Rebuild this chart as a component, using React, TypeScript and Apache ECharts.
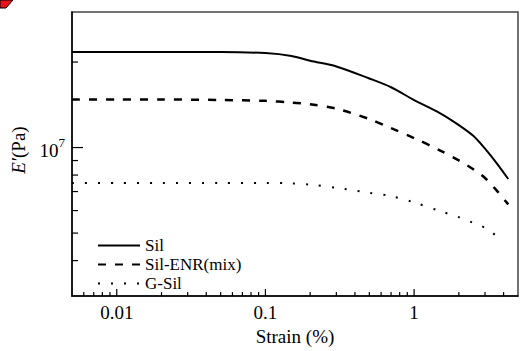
import React, { useEffect, useRef } from "react";
import * as echarts from "echarts";

const strain = [0.005, 0.01, 0.02, 0.05, 0.1, 0.15, 0.2, 0.3, 0.5, 0.7, 1.0, 1.5, 2.0, 2.5, 3.0, 3.6, 4.3];
const silValues = [2.17e7, 2.17e7, 2.17e7, 2.17e7, 2.15e7, 2.1e7, 2.02e7, 1.93e7, 1.75e7, 1.63e7, 1.47e7, 1.32e7, 1.2e7, 1.1e7, 9.91e6, 8.8e6, 7.75e6];
const silEnrValues = [1.476e7, 1.476e7, 1.476e7, 1.47e7, 1.46e7, 1.44e7, 1.42e7, 1.37e7, 1.26e7, 1.17e7, 1.08e7, 9.76e6, 9.01e6, 8.39e6, 7.81e6, 7.05e6, 6.31e6];
const gSilValues = [7.51e6, 7.51e6, 7.51e6, 7.51e6, 7.51e6, 7.48e6, 7.4e6, 7.22e6, 6.93e6, 6.75e6, 6.41e6, 5.97e6, 5.69e6, 5.43e6, 5.22e6, 4.88e6, null];
const seriesNames = ["Sil", "Sil-ENR(mix)", "G-Sil"];

const xMin = 0.005;
const xMax = 5;
const yMin = 3e6;
const yMax = 3e7;
const xMajorTicks = [0.01, 0.1, 1];
const xMinorTicks = [0.006, 0.007, 0.008, 0.009, 0.02, 0.03, 0.04, 0.05, 0.06, 0.07, 0.08, 0.09, 0.2, 0.3, 0.4, 0.5, 0.6, 0.7, 0.8, 0.9, 2, 3, 4];
const yMajorTicks = [1e7];
const yMinorTicks = [4e6, 5e6, 6e6, 7e6, 8e6, 9e6, 2e7];

const FONT = "Liberation Serif";

function pairs(values: (number | null)[]) {
  return strain.map((s, i) => [s, values[i]]);
}

function isPow10(v: number) {
  const l = Math.log10(v);
  return Math.abs(l - Math.round(l)) < 1e-6;
}

export default function App() {
  const ref = useRef<HTMLDivElement>(null);
  useEffect(() => {
    if (!ref.current) return;
    const chart = echarts.init(ref.current, undefined, { renderer: "svg" });
    const tickData: number[][] = [
      ...xMinorTicks.map((v) => [v, yMin, 0]),
      ...xMajorTicks.map((v) => [v, yMin, 1]),
      ...yMinorTicks.map((v) => [xMin, v, 2]),
      ...yMajorTicks.map((v) => [xMin, v, 3]),
    ];
    chart.setOption({
      animation: false,
      backgroundColor: "#fff",
      textStyle: { fontFamily: FONT },
      grid: {
        left: 72,
        top: 12,
        width: 453,
        height: 291,
        show: true,
        borderColor: "#444",
        borderWidth: 1.5,
      },
      legend: {
        data: seriesNames,
        orient: "vertical",
        left: 92,
        top: 232,
        itemWidth: 42,
        itemHeight: 12,
        itemGap: 2,
        itemStyle: { opacity: 0 },
        textStyle: { fontFamily: FONT, fontSize: 17, color: "#000", lineHeight: 17 },
      },
      xAxis: {
        type: "log",
        logBase: 10,
        min: xMin,
        max: xMax,
        name: "Strain (%)",
        nameLocation: "middle",
        nameGap: 27,
        nameTextStyle: { fontFamily: FONT, fontSize: 19, color: "#000" },
        axisLine: { show: true, lineStyle: { color: "#000", width: 1.5 } },
        axisTick: { show: false },
        splitLine: { show: false },
        axisLabel: {
          margin: 7,
          fontFamily: FONT,
          fontSize: 19,
          color: "#000",
          showMinLabel: true,
          showMaxLabel: true,
          formatter: (v: number) => (isPow10(v) ? String(+v.toPrecision(6)) : ""),
        },
      },
      yAxis: {
        type: "log",
        logBase: 10,
        min: yMin,
        max: yMax,
        name: "{i|E′}{n|(Pa)}",
        nameLocation: "middle",
        nameGap: 44,
        nameRotate: 90,
        nameTextStyle: {
          fontFamily: FONT,
          fontSize: 19,
          color: "#000",
          padding: [0, 0, 0, 8],
          rich: {
            i: { fontFamily: FONT, fontSize: 19, fontStyle: "italic", color: "#000" },
            n: { fontFamily: FONT, fontSize: 19, color: "#000" },
          },
        },
        axisLine: { show: true, lineStyle: { color: "#000", width: 1.5 } },
        axisTick: { show: false },
        splitLine: { show: false },
        axisLabel: {
          margin: 7,
          color: "#000",
          formatter: (v: number) => (isPow10(v) ? `{a|10}{b|${Math.round(Math.log10(v))}}` : ""),
          rich: {
            a: { fontFamily: FONT, fontSize: 19, color: "#000", lineHeight: 24, verticalAlign: "bottom" },
            b: { fontFamily: FONT, fontSize: 13, color: "#000", lineHeight: 24, verticalAlign: "top" },
          },
        },
      },
      series: [
        {
          name: seriesNames[0],
          type: "line",
          data: pairs(silValues),
          symbol: "none",
          smooth: 0.3,
          lineStyle: { color: "#000", width: 2, type: "solid" },
          itemStyle: { color: "#000" },
        },
        {
          name: seriesNames[1],
          type: "line",
          data: pairs(silEnrValues),
          symbol: "none",
          smooth: 0.3,
          lineStyle: { color: "#000", width: 2.5, type: [8, 9] },
          itemStyle: { color: "#000" },
        },
        {
          name: seriesNames[2],
          type: "line",
          data: pairs(gSilValues),
          symbol: "none",
          smooth: 0.3,
          lineStyle: { color: "#000", width: 2, type: [2, 11] },
          itemStyle: { color: "#000" },
        },
        {
          name: "ticks",
          type: "custom",
          silent: true,
          clip: false,
          data: tickData,
          renderItem: (params: any, api: any) => {
            const kind = api.value(2);
            const p = api.coord([api.value(0), api.value(1)]);
            let shape;
            if (kind === 0 || kind === 1) {
              const len = kind === 1 ? 7 : 4;
              shape = { x1: p[0], y1: p[1], x2: p[0], y2: p[1] - len };
            } else {
              const len = kind === 3 ? 11 : 6;
              shape = { x1: p[0], y1: p[1], x2: p[0] + len, y2: p[1] };
            }
            return { type: "line", shape, style: { stroke: "#000", lineWidth: 1.2 } };
          },
        },
      ],
      graphic: [
        {
          type: "polygon",
          shape: { points: [[0, 0], [13, 0], [6, 8], [0, 8]] },
          style: { fill: "#e8141b", stroke: "#000", lineWidth: 1 },
        },
      ],
    });
    return () => chart.dispose();
  }, []);
  return (
    <div
      ref={ref}
      style={{ position: "fixed", left: 0, top: 0, width: 521, height: 351 }}
    />
  );
}
